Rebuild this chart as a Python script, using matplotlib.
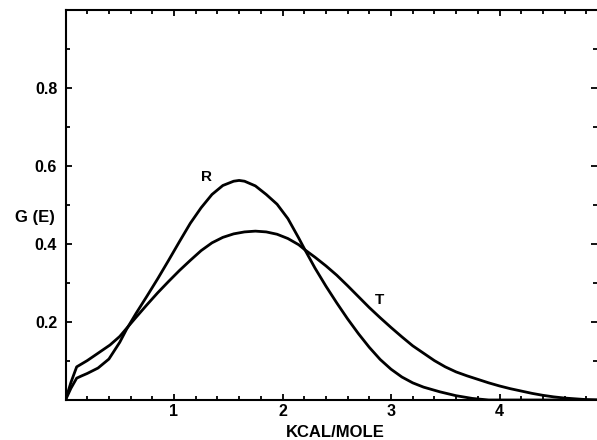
import numpy as np
import matplotlib
matplotlib.use("Agg")
from matplotlib import pyplot as plt
from matplotlib.ticker import MultipleLocator, FixedLocator

plt.rcParams['font.family'] = ['Liberation Sans', 'DejaVu Sans']

# curve R
r_x = [0.0, 0.05, 0.103, 0.15, 0.2, 0.3, 0.4, 0.5, 0.564, 0.65, 0.75, 0.85, 0.95,
       1.05, 1.15, 1.25, 1.35, 1.45, 1.55, 1.6, 1.65, 1.75, 1.85, 1.95, 2.05,
       2.15, 2.207, 2.3, 2.4, 2.5, 2.6, 2.7, 2.8, 2.9, 3.0, 3.1, 3.2, 3.3, 3.45,
       3.6, 3.75, 3.9, 4.9]
r_y = [0.0, 0.03, 0.056, 0.062, 0.068, 0.082, 0.105, 0.148, 0.182, 0.222, 0.266,
       0.311, 0.358, 0.406, 0.453, 0.493, 0.527, 0.55, 0.561, 0.563, 0.561, 0.549,
       0.527, 0.502, 0.465, 0.415, 0.385, 0.338, 0.292, 0.249, 0.208, 0.170,
       0.135, 0.104, 0.079, 0.059, 0.044, 0.033, 0.021, 0.011, 0.004, 0.0, 0.0]

# curve T
t_x = [0.0, 0.05, 0.103, 0.2, 0.3, 0.41, 0.5, 0.564, 0.65, 0.75, 0.85, 0.95,
       1.05, 1.15, 1.25, 1.35, 1.45, 1.55, 1.65, 1.75, 1.85, 1.95, 2.05, 2.15,
       2.207, 2.3, 2.4, 2.5, 2.6, 2.7, 2.8, 2.9, 3.0, 3.1, 3.2, 3.3, 3.4, 3.5,
       3.6, 3.7, 3.8, 3.9, 4.0, 4.1, 4.2, 4.3, 4.4, 4.5, 4.6, 4.7, 4.8, 4.9]
t_y = [0.0, 0.045, 0.085, 0.101, 0.12, 0.141, 0.163, 0.184, 0.212, 0.244,
       0.275, 0.304, 0.332, 0.358, 0.383, 0.403, 0.417, 0.426, 0.431, 0.433,
       0.431, 0.425, 0.414, 0.398, 0.385, 0.366, 0.344, 0.32, 0.293, 0.265,
       0.237, 0.211, 0.186, 0.162, 0.139, 0.12, 0.101, 0.085, 0.072, 0.062,
       0.053, 0.044, 0.036, 0.029, 0.023, 0.017, 0.012, 0.008, 0.005, 0.003,
       0.001, 0.0]

x_ticks = [1, 2, 3, 4]
y_ticks = [0.2, 0.4, 0.6, 0.8]

fig = plt.figure(figsize=(5.97, 4.40), dpi=100)
ax = fig.add_axes([65.5/597, 40/440, 4.9*108.5/597, 390/440])

ax.plot(r_x, r_y, color='black', lw=2.0, solid_joinstyle='round')
ax.plot(t_x, t_y, color='black', lw=2.0, solid_joinstyle='round')

ax.text(1.30, 0.573, 'R', fontsize=11, fontweight='bold', ha='center', va='center')
ax.text(2.89, 0.256, 'T', fontsize=11, fontweight='bold', ha='center', va='center')

ax.set_xlim(0, 4.9)
ax.set_ylim(0, 1.0)
ax.xaxis.set_major_locator(FixedLocator(x_ticks))
ax.xaxis.set_minor_locator(MultipleLocator(0.2))
ax.yaxis.set_major_locator(FixedLocator(y_ticks))
ax.yaxis.set_minor_locator(MultipleLocator(0.1))
ax.set_xticklabels([str(v) for v in x_ticks])
ax.set_yticklabels(['%.1f' % v for v in y_ticks])
for lab in ax.get_xticklabels() + ax.get_yticklabels():
    lab.set_fontweight('bold')

ax.tick_params(which='both', direction='in', top=True, right=True,
               width=1.3, labelsize=11.5)
ax.tick_params(which='major', length=4.5)
ax.tick_params(which='minor', length=3)
ax.tick_params(axis='y', pad=6)
ax.tick_params(axis='x', pad=3)
for s in ['left', 'bottom', 'top']:
    ax.spines[s].set_linewidth(1.5)
ax.spines['right'].set_visible(False)

fig.text(335/597, 1 - 432/440, 'KCAL/MOLE', fontsize=12, fontweight='bold',
         ha='center', va='center')
fig.text(35/597, 1 - 217.5/440, 'G (E)', fontsize=12, fontweight='bold',
         ha='center', va='center')

plt.savefig('out.png', dpi=100)
